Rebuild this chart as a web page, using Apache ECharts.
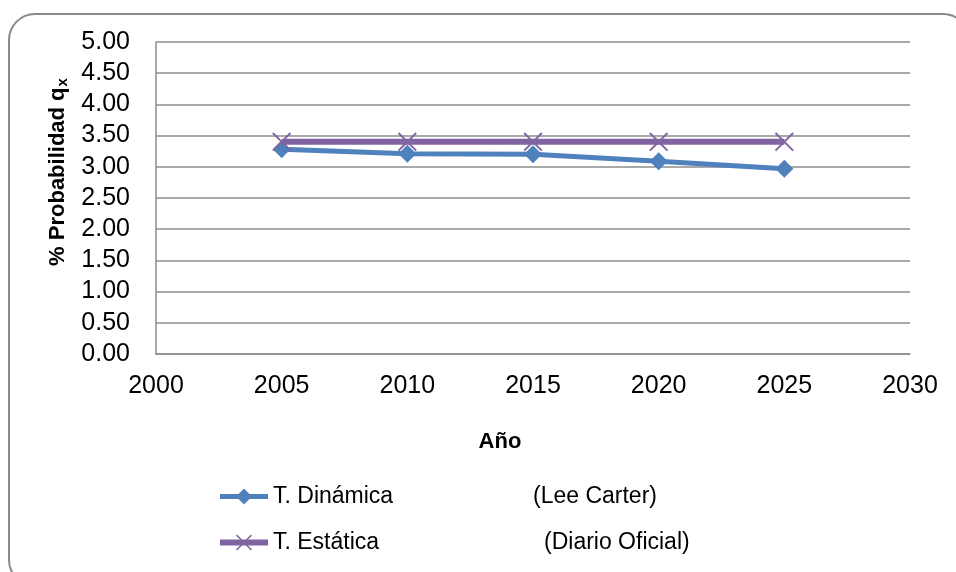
<!DOCTYPE html>
<html>
<head>
<meta charset="utf-8">
<style>
  html, body { margin: 0; padding: 0; background: #ffffff; }
  #chart { width: 956px; height: 572px; }
</style>
<script src="https://cdn.jsdelivr.net/npm/echarts@6/dist/echarts.min.js"></script>
</head>
<body>
<div id="chart"></div>
<script>
// Years on the horizontal value axis
const years = [2005, 2010, 2015, 2020, 2025];
// % probability q_x per table
const dinamica = [3.28, 3.21, 3.20, 3.09, 2.97];
const estatica = [3.40, 3.40, 3.40, 3.40, 3.40];
// Legend labels: table name and its source
const seriesNames = ['T. Dinámica', 'T. Estática'];
const seriesSources = ['(Lee Carter)', '(Diario Oficial)'];

const FONT = '"Liberation Sans", Arial, sans-serif';
const BLUE = '#4F81BD';
const PURPLE = '#8064A2';
const GRID_GRAY = '#8c8c8c';

// Filled "×" marker
const CROSS = 'path://M0,1.4L1.4,0L10,8.6L18.6,0L20,1.4L11.4,10L20,18.6L18.6,20L10,11.4L1.4,20L0,18.6L8.6,10Z';

const chart = echarts.init(document.getElementById('chart'), null, { renderer: 'canvas' });

chart.setOption({
  animation: false,
  backgroundColor: '#ffffff',
  graphic: [{
    type: 'rect',
    silent: true,
    shape: { x: 9, y: 14, width: 960, height: 572, r: 26 },
    style: { fill: 'none', stroke: '#8a8a8a', lineWidth: 2 }
  }],
  grid: { left: 156, right: 46, top: 42, bottom: 218, containLabel: false },
  legend: {
    orient: 'vertical',
    left: 212,
    top: 480,
    itemWidth: 48,
    itemHeight: 20,
    itemGap: 23,
    selectedMode: false,
    data: seriesNames.map((n, i) => ({
      name: n,
      lineStyle: { width: i === 0 ? 5 : 6 }
    })),
    lineStyle: { width: 5 },
    formatter: function (name) {
      const i = seriesNames.indexOf(name);
      return '{n' + i + '|' + name + '}{s|' + seriesSources[i] + '}';
    },
    textStyle: {
      fontFamily: FONT,
      fontSize: 23,
      color: '#000',
      rich: {
        n0: { fontFamily: FONT, fontSize: 23, color: '#000', width: 260 },
        n1: { fontFamily: FONT, fontSize: 23, color: '#000', width: 271 },
        s: { fontFamily: FONT, fontSize: 23, color: '#000' }
      }
    }
  },
  xAxis: {
    type: 'value',
    min: 2000,
    max: 2030,
    interval: 5,
    name: 'Año',
    nameLocation: 'middle',
    nameGap: 77,
    nameTextStyle: {
      fontFamily: FONT, fontSize: 22, fontWeight: 'bold', color: '#000',
      padding: [0, 66, 0, 0]
    },
    axisLine: { show: true, lineStyle: { color: GRID_GRAY, width: 1.5 } },
    axisTick: { show: false },
    splitLine: { show: false },
    axisLabel: {
      fontFamily: FONT, fontSize: 25, color: '#000', margin: 20,
      formatter: function (v) { return String(v); }
    }
  },
  yAxis: {
    type: 'value',
    min: 0,
    max: 5,
    interval: 0.5,
    name: '{t|% Probabilidad q}{sub|x}',
    nameLocation: 'middle',
    nameRotate: 90,
    nameGap: 82,
    nameTextStyle: {
      fontFamily: FONT, fontSize: 22, fontWeight: 'bold', color: '#000',
      padding: [0, 0, 0, 52],
      rich: {
        t: { fontFamily: FONT, fontSize: 22, fontWeight: 'bold', color: '#000' },
        sub: { fontFamily: FONT, fontSize: 15, fontWeight: 'bold', color: '#000', padding: [10, 0, 0, 1] }
      }
    },
    axisLine: { show: true, lineStyle: { color: GRID_GRAY, width: 1.5 } },
    axisTick: { show: false },
    splitLine: { show: true, lineStyle: { color: GRID_GRAY, width: 1.5 } },
    axisLabel: {
      fontFamily: FONT, fontSize: 25, color: '#000', margin: 26,
      formatter: function (v) { return v.toFixed(2); }
    }
  },
  series: [
    {
      name: seriesNames[0],
      type: 'line',
      data: years.map((y, i) => [y, dinamica[i]]),
      symbol: 'diamond',
      symbolSize: 18,
      lineStyle: { color: BLUE, width: 5 },
      itemStyle: { color: BLUE },
      z: 2
    },
    {
      name: seriesNames[1],
      type: 'line',
      data: years.map((y, i) => [y, estatica[i]]),
      symbol: CROSS,
      symbolSize: 19,
      lineStyle: { color: PURPLE, width: 6 },
      itemStyle: { color: PURPLE },
      z: 3
    }
  ]
});
</script>
</body>
</html>
